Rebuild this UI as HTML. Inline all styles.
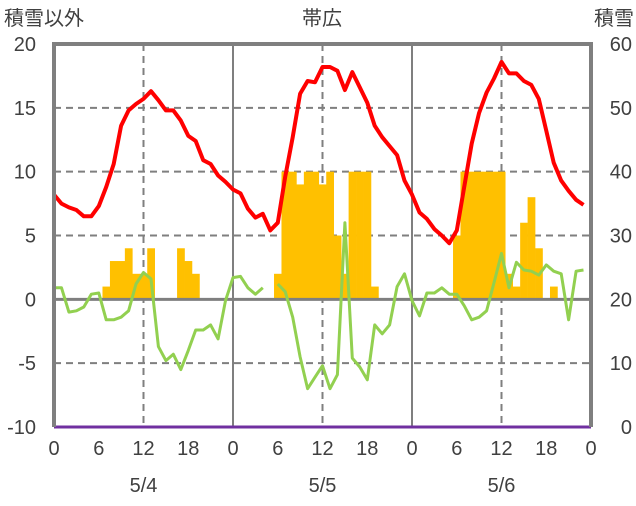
<!DOCTYPE html>
<html><head><meta charset="utf-8">
<style>
body{margin:0;background:#fff;}
svg text{font-family:"Liberation Sans","Noto Sans CJK JP",sans-serif;fill:#404040;}
</style></head>
<body>
<svg id="c" width="636" height="501" viewBox="0 0 636 501" xmlns="http://www.w3.org/2000/svg"></svg>
<script>
const leftTicks=[20,15,10,5,0,-5,-10];
const rightTicks=[60,50,40,30,20,10,0];
const hourTicks=[0,6,12,18,0,6,12,18,0,6,12,18,0];
const dateLabels=["5/4","5/5","5/6"];
const temp=[8.2,7.5,7.2,7.0,6.5,6.5,7.3,8.8,10.6,13.6,14.8,15.3,15.7,16.3,15.6,14.8,14.8,14.0,12.8,12.4,10.9,10.6,9.7,9.2,
8.6,8.3,7.1,6.4,6.7,5.4,6.0,9.6,12.7,16.1,17.1,17.0,18.2,18.2,17.9,16.4,17.8,16.6,15.4,13.6,12.7,12.0,11.3,9.3,
8.2,6.8,6.3,5.5,5.0,4.4,5.4,8.8,12.2,14.6,16.2,17.3,18.6,17.7,17.7,17.1,16.8,15.7,13.2,10.7,9.3,8.5,7.8,7.4];
const green=[0.9,0.9,-1.0,-0.9,-0.6,0.4,0.5,-1.6,-1.6,-1.4,-0.9,1.2,2.1,1.6,-3.7,-4.8,-4.3,-5.5,-4.0,-2.4,-2.4,-2.0,-3.1,-0.1,
1.7,1.8,0.9,0.4,0.9,null,1.2,0.6,-1.4,-4.5,-7.0,-6.1,-5.2,-7.0,-5.9,6.0,-4.6,-5.3,-6.3,-2.0,-2.7,-2.0,1.0,2.0,
-0.1,-1.3,0.5,0.5,0.9,0.4,0.4,-0.5,-1.6,-1.4,-0.9,1.3,3.6,0.9,2.9,2.3,2.2,1.9,2.7,2.2,2.0,-1.6,2.2,2.3];
const bars=[0,0,0,0,0,0,0,1,3,3,4,2,2,4,0,0,0,4,3,2,0,0,0,0,
0,0,0,0,0,0,2,10,10,9,10,10,9,10,5,2,10,10,10,1,0,0,0,0,
0,0,0,0,0,0,5,10,10,10,10,10,10,2,1,6,8,4,0,1,0,0,0,0];
const snow=new Array(73).fill(0);

const X0=54,X1=591,Y0=44,Y1=427;
const xs=h=>X0+(X1-X0)*h/72;
const yl=v=>Y1-(v+10)/30*(Y1-Y0);
const yr=v=>Y1-v/60*(Y1-Y0);
const svg=document.getElementById('c');
const NS='http://www.w3.org/2000/svg';
function mk(t,a,p){const e=document.createElementNS(NS,t);for(const k in a)e.setAttribute(k,a[k]);(p||svg).appendChild(e);return e;}

[15,10,5,-5].forEach(v=>{
 const g=mk('line',{x1:X0,x2:X1,y1:yl(v),y2:yl(v),stroke:'#7f7f7f','stroke-width':2,'stroke-dasharray':'7,5'});
 
 
});
[12,36,60].forEach(h=>{
 const g=mk('line',{x1:xs(h),x2:xs(h),y1:Y0,y2:Y1,stroke:'#7f7f7f','stroke-width':2,'stroke-dasharray':'7,5'});
 
 
});
[24,48].forEach(h=>{
 const g=mk('line',{x1:xs(h),x2:xs(h),y1:Y0,y2:Y1,stroke:'#7f7f7f','stroke-width':2});
 
 
});
const bw=(X1-X0)/72;
bars.forEach((v,i)=>{
 if(!v)return;
 const r=mk('rect',{x:xs(i)-bw/2,y:yl(v),width:bw+0.3,height:yl(0)-yl(v),fill:'#ffc000'});
 
 
});
const z=mk('line',{x1:X0,x2:X1,y1:yl(0),y2:yl(0),stroke:'#7f7f7f','stroke-width':3});


let d='',pen=false;
green.forEach((v,i)=>{if(v===null){pen=false;return;}d+=(pen?'L':'M')+xs(i).toFixed(1)+','+yl(v).toFixed(1);pen=true;});
const gl=mk('path',{d:d,fill:'none',stroke:'#92d050','stroke-width':3,'stroke-linejoin':'round'});


const tl=mk('path',{d:temp.map((v,i)=>(i?'L':'M')+xs(i).toFixed(1)+','+yl(v).toFixed(1)).join(''),fill:'none',stroke:'#ff0000','stroke-width':4,'stroke-linejoin':'round'});


const sl=mk('path',{d:snow.map((v,i)=>(i?'L':'M')+xs(i).toFixed(1)+','+yr(v).toFixed(1)).join(''),fill:'none',stroke:'#7030a0','stroke-width':3});


const fr=mk('path',{d:`M${X0},${Y1}L${X0},${Y0}L${X1},${Y0}L${X1},${Y1}`,fill:'none',stroke:'#7f7f7f','stroke-width':4});


leftTicks.forEach(v=>{
 const t=mk('text',{x:36,y:yl(v)+7,'text-anchor':'end','font-size':20});t.textContent=v;
 
 
});
rightTicks.forEach(v=>{
 const t=mk('text',{x:632,y:yr(v)+7,'text-anchor':'end','font-size':20});t.textContent=v;
 
 
});
hourTicks.forEach((v,i)=>{
 const t=mk('text',{x:xs(i*6),y:455,'text-anchor':'middle','font-size':20});t.textContent=v;
 
 
});
dateLabels.forEach((v,i)=>{
 const t=mk('text',{x:xs(12+24*i),y:492,'text-anchor':'middle','font-size':20});t.textContent=v;
 
 
});
[['積雪以外',4,'start','left-axis-title'],['帯広',322,'middle','chart-title'],['積雪',634,'end','right-axis-title']].forEach(a=>{
 const t=mk('text',{x:a[1],y:25,'text-anchor':a[2],'font-size':20});t.textContent=a[0];
 
 
});
</script>
</body></html>
